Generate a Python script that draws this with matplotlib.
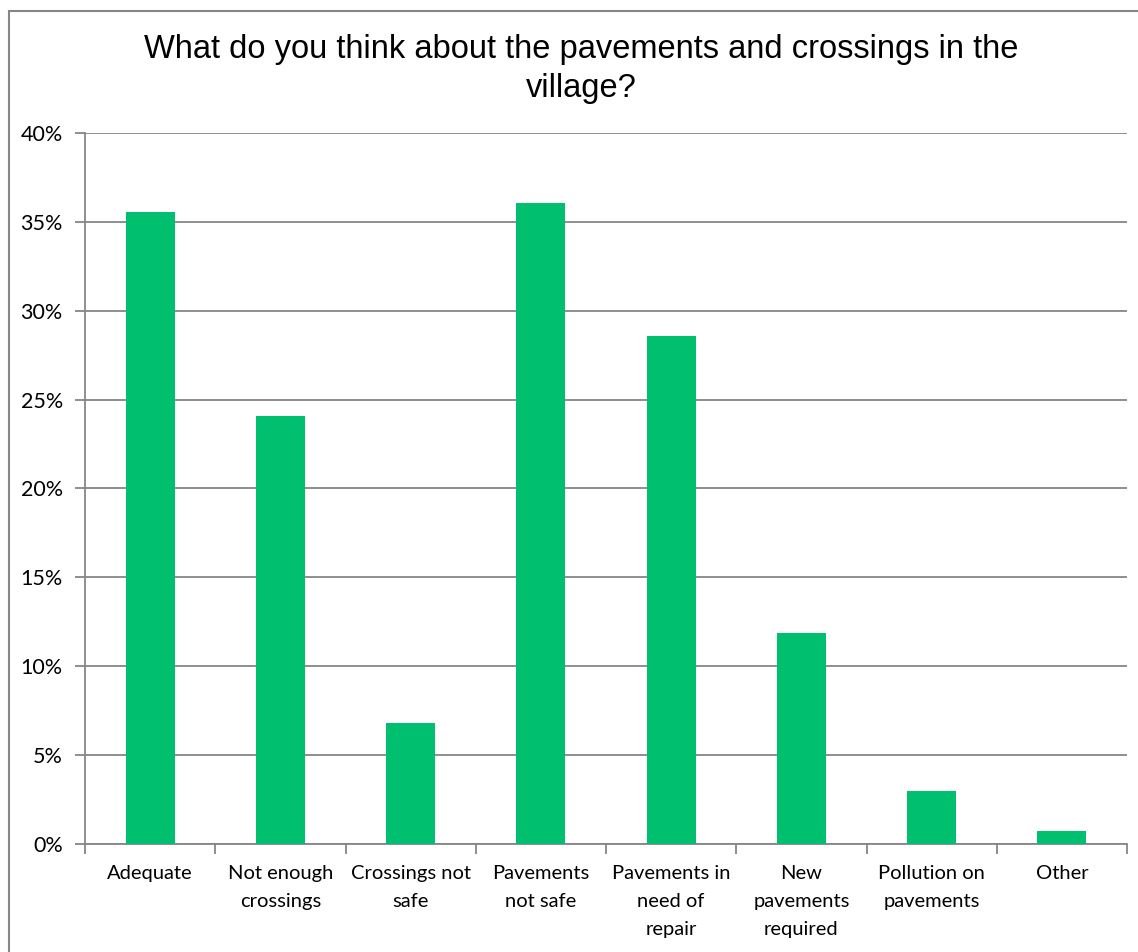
import matplotlib.pyplot as plt
from matplotlib.patches import Rectangle
from matplotlib.ticker import FuncFormatter, MultipleLocator

categories = ["Adequate", "Not enough\ncrossings", "Crossings not\nsafe", "Pavements\nnot safe",
              "Pavements in\nneed of\nrepair", "New\npavements\nrequired", "Pollution on\npavements", "Other"]
values = [35.56, 24.08, 6.81, 36.06, 28.6, 11.87, 2.98, 0.73]

grey = "#868686"
fig = plt.figure(figsize=(11.38, 9.52), dpi=100)
ax = fig.add_axes([85 / 1138, 1 - 844 / 952, (1127 - 85) / 1138, (844 - 133) / 952])

x = range(len(categories))
ax.bar(x, values, width=0.375, color="#00BF6F", zorder=3)

ax.set_xlim(-0.5, len(categories) - 0.5)
ax.set_ylim(0, 40)
ax.yaxis.set_major_locator(MultipleLocator(5))
ax.yaxis.set_major_formatter(FuncFormatter(lambda v, p: "%d%%" % v))
ax.grid(axis="y", color=grey, linewidth=1.3, zorder=0)

ax.set_xticks([i - 0.5 for i in range(len(categories) + 1)], minor=False)
ax.set_xticklabels([])
ax.set_xticks(list(x), minor=True)
ax.set_xticklabels(categories, minor=True, fontsize=14.5, fontfamily="Lato", linespacing=1.8)
ax.tick_params(axis="x", which="minor", length=0, pad=15)
ax.tick_params(axis="x", which="major", length=7, color=grey, width=1.3)
ax.tick_params(axis="y", length=7, color=grey, width=1.3, labelsize=15.5, pad=9)
for lab in ax.get_yticklabels():
    lab.set_fontfamily("Lato")

for s in ["top", "right"]:
    ax.spines[s].set_visible(False)
for s in ["left", "bottom"]:
    ax.spines[s].set_color(grey)
    ax.spines[s].set_linewidth(1.3)

fig.text(581 / 1138, 1 - 69 / 952, "What do you think about the pavements and crossings in the\nvillage?",
         ha="center", va="center", fontsize=23.5, fontfamily="Liberation Sans", linespacing=1.35)

# chart border, cut off at the right and bottom edges
fig.patches.append(Rectangle((8.5 / 1138, -0.05), 1.1, 1 - 11 / 952 + 0.05, transform=fig.transFigure,
                             fill=False, edgecolor=grey, linewidth=1.5))

fig.savefig("out.png", dpi=100)
